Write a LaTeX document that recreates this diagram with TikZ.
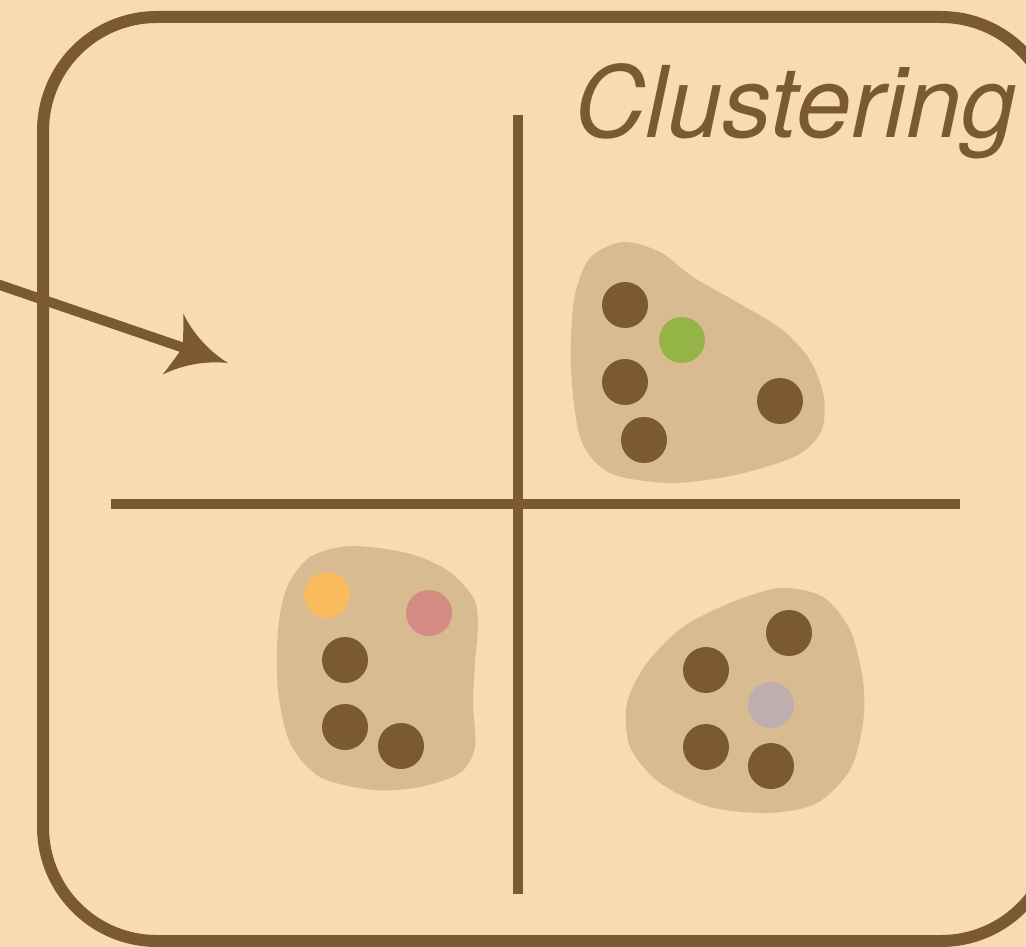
\documentclass[tikz,border=0pt]{standalone}
\usepackage{fontspec}
\setmainfont{TeX Gyre Heros}
\usetikzlibrary{arrows.meta}

\definecolor{paper}{HTML}{FADBAF}
\definecolor{ink}{HTML}{7B5A2F}
\definecolor{blobfill}{HTML}{D9BB91}
\definecolor{dotgreen}{HTML}{94B447}
\definecolor{dotorange}{HTML}{FABB5E}
\definecolor{dotpink}{HTML}{D38B84}
\definecolor{dotlilac}{HTML}{BFAEAE}

% swept arrow head with concave flanks
\pgfdeclarearrow{
  name = Swoop,
  parameters = {},
  setup code = {
    \pgfarrowssettipend{0pt}
    \pgfarrowssetbackend{-58pt}
    \pgfarrowssetlineend{-40pt}
    \pgfarrowshullpoint{0pt}{0pt}
    \pgfarrowsupperhullpoint{-58pt}{32pt}
  },
  drawing code = {
    \pgfpathmoveto{\pgfqpoint{0pt}{0pt}}
    \pgfpathcurveto{\pgfqpoint{-18pt}{4pt}}{\pgfqpoint{-40pt}{14pt}}{\pgfqpoint{-58pt}{32pt}}
    \pgfpathcurveto{\pgfqpoint{-54pt}{20pt}}{\pgfqpoint{-50pt}{8pt}}{\pgfqpoint{-48pt}{0pt}}
    \pgfpathcurveto{\pgfqpoint{-50pt}{-8pt}}{\pgfqpoint{-54pt}{-20pt}}{\pgfqpoint{-58pt}{-32pt}}
    \pgfpathcurveto{\pgfqpoint{-40pt}{-14pt}}{\pgfqpoint{-18pt}{-4pt}}{\pgfqpoint{0pt}{0pt}}
    \pgfpathclose
    \pgfusepathqfill
  }
}

\begin{document}
\begin{tikzpicture}[x=1pt, y=-1pt,
  dot/.style={circle, inner sep=0pt, minimum size=46pt, fill=ink},
  blob/.style={fill=blobfill},
  axis/.style={draw=ink, line width=10pt},
  frame/.style={draw=ink, line width=12pt, rounded corners=114pt,
                inner sep=0pt, minimum width=1012pt, minimum height=924pt},
  link/.style={draw=ink, line width=10pt, -Swoop},
  title/.style={text=ink, inner sep=0pt, anchor=base west,
                font=\fontsize{99}{110}\selectfont\itshape}]

\useasboundingbox (0,0) rectangle (1026,947);
\clip (0,0) rectangle (1026,947);
\fill[paper] (0,0) rectangle (1026,947);

% outer panel
\node[frame] (panel) at (549,479) {};

% title
\node[title] (label) at (574,138) {Clustering};

% incoming arrow
\coordinate (src) at (-10,281.6);
\coordinate (dst) at (228,363);
\draw[link] (src) -- (dst);

% quadrant axes
\coordinate (vtop) at (518,115);
\coordinate (vbot) at (518,894);
\coordinate (hleft) at (111,503.5);
\coordinate (hright) at (960,503.5);
\draw[axis] (vtop) -- (vbot);
\draw[axis] (hleft) -- (hright);

% cluster outlines
\fill[blob] plot[smooth cycle] coordinates {
  (623,242) (660,252) (693,277) (733,300) (780,328) (810,360) (824,398)
  (821,432) (796,456) (735,475) (670,483) (610,473) (581,440) (571,370)
  (574,300) (590,258)};
\fill[blob] plot[smooth cycle] coordinates {
  (350,546) (407,553) (447,570) (473,597) (478,623) (475,663) (473,703)
  (475,747) (460,773) (420,787) (373,790) (320,777) (290,743) (278,690)
  (278,630) (287,587) (310,557)};
\fill[blob] plot[smooth cycle] coordinates {
  (780,588) (823,597) (850,630) (863,680) (863,723) (850,770) (817,803)
  (770,813) (710,807) (660,783) (630,747) (627,703) (647,663) (683,627) (730,603)};

% upper-right cluster
\node[dot] (a1) at (625,305) {};
\node[dot, fill=dotgreen] (a2) at (682,340) {};
\node[dot] (a3) at (625,382) {};
\node[dot] (a4) at (644,440) {};
\node[dot] (a5) at (780,401) {};

% lower-left cluster
\node[dot, fill=dotorange] (b1) at (327,595) {};
\node[dot, fill=dotpink] (b2) at (429,613) {};
\node[dot] (b3) at (345,660) {};
\node[dot] (b4) at (345,727) {};
\node[dot] (b5) at (401,746) {};

% lower-right cluster
\node[dot] (c1) at (789,633) {};
\node[dot] (c2) at (706,670) {};
\node[dot, fill=dotlilac] (c3) at (771,705) {};
\node[dot] (c4) at (706,747) {};
\node[dot] (c5) at (771,766) {};
\end{tikzpicture}
\end{document}
